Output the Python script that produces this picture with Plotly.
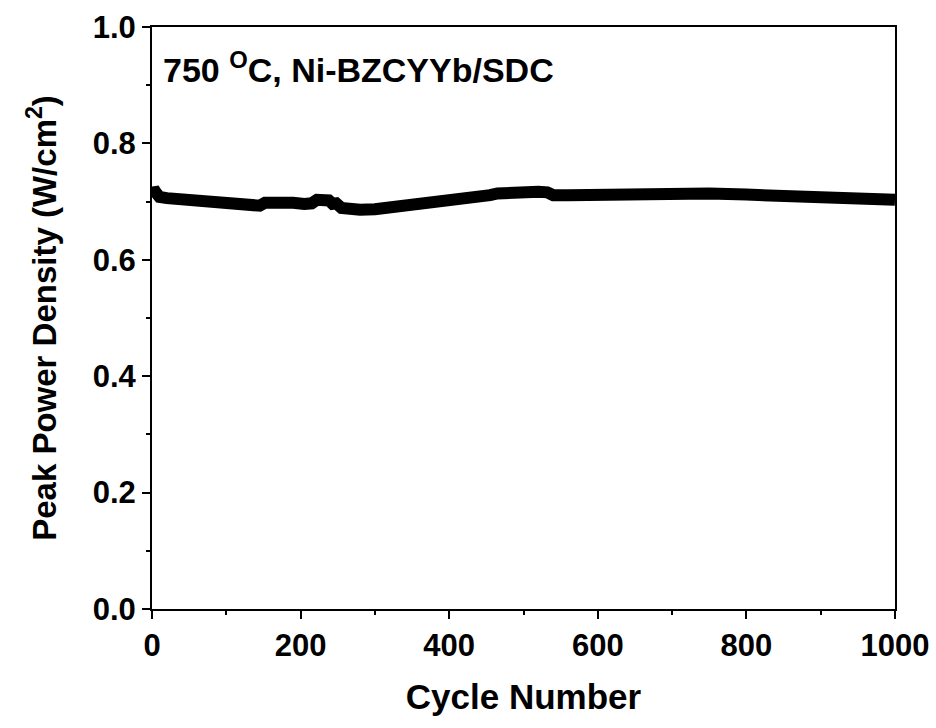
import plotly.graph_objects as go

cycles = [0, 2, 5, 10, 20, 30, 45, 60, 80, 100, 115, 130, 145, 152, 160, 175, 190, 205, 215, 222, 230, 238, 243, 248, 255, 265, 280, 300, 320, 340, 360, 380, 400, 420, 435, 445, 455, 465, 480, 500, 520, 532, 540, 560, 600, 650, 700, 750, 800, 840, 850, 856, 880, 900, 950, 1000]
ppd = [0.712, 0.722, 0.716, 0.708, 0.706, 0.705, 0.702, 0.700, 0.698, 0.696, 0.694, 0.693, 0.693, 0.698, 0.699, 0.698, 0.698, 0.696, 0.697, 0.703, 0.703, 0.702, 0.696, 0.697, 0.689, 0.687, 0.686, 0.687, 0.690, 0.692, 0.694, 0.697, 0.699, 0.701, 0.703, 0.707, 0.711, 0.714, 0.716, 0.717, 0.717, 0.716, 0.711, 0.711, 0.712, 0.715, 0.715, 0.714, 0.712, 0.711, 0.708, 0.706, 0.706, 0.706, 0.704, 0.703]

xticks = [0, 200, 400, 600, 800, 1000]
yticks = [0.0, 0.2, 0.4, 0.6, 0.8, 1.0]

font = "Liberation Sans, Arial, sans-serif"

fig = go.Figure()
fig.add_trace(go.Scatter(x=cycles, y=ppd, mode="lines",
                         line=dict(color="black", width=12),
                         showlegend=False))

axis_common = dict(
    showgrid=False, zeroline=False, showline=True, linecolor="black", linewidth=2,
    mirror=True, ticks="outside", ticklen=8, tickwidth=2, tickcolor="black",
    tickfont=dict(family=font, size=31, color="black", weight="bold"),
    automargin=False,
)
fig.update_xaxes(range=[0, 1000], tickvals=xticks, ticktext=[str(v) for v in xticks],
                 minor=dict(ticks="outside", ticklen=4, tickwidth=2, dtick=100, tickcolor="black"),
                 title=dict(text="<b>Cycle Number</b>", font=dict(family=font, size=35, color="black"), standoff=22),
                 **axis_common)
fig.update_yaxes(range=[0, 1.0], tickvals=yticks, ticktext=[f"{v:.1f}" for v in yticks],
                 minor=dict(ticks="outside", ticklen=4, tickwidth=2, dtick=0.1, tickcolor="black"),
                 title=dict(text="<b>Peak Power Density (W/cm<sup>2</sup>)</b>", font=dict(family=font, size=33, color="black"), standoff=26),
                 **axis_common)

fig.add_annotation(x=0.012, y=0.97, xref="paper", yref="paper", xanchor="left", yanchor="top",
                   text="<b>750 <sup>O</sup>C, Ni-BZCYYb/SDC</b>", showarrow=False,
                   font=dict(family=font, size=34, color="black"))

fig.update_layout(width=936, height=728, margin=dict(l=152, r=41, t=27, b=119),
                  plot_bgcolor="white", paper_bgcolor="white")

fig.write_html("out.html")
